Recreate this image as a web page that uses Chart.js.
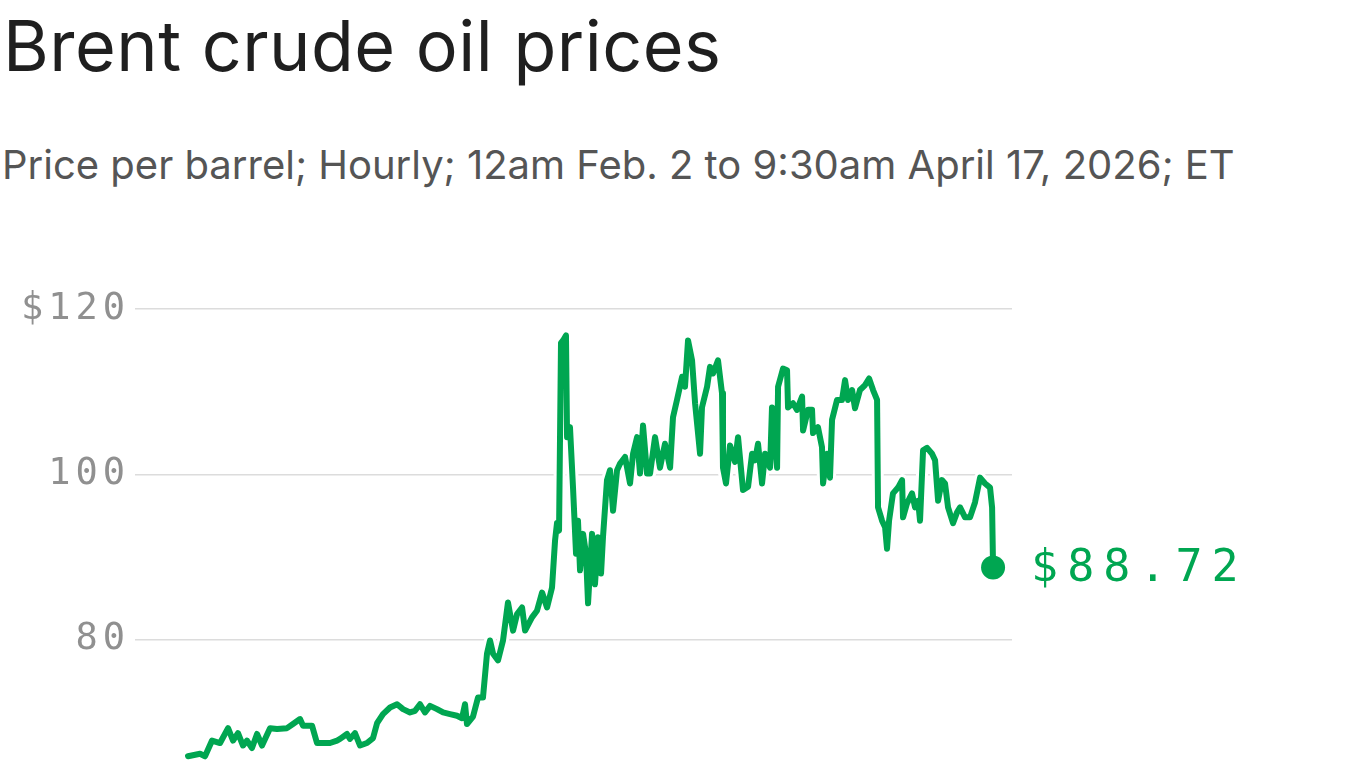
<!DOCTYPE html>
<html>
<head>
<meta charset="utf-8">
<script src="https://cdn.jsdelivr.net/npm/chart.js@4/dist/chart.umd.min.js"></script>
<style>
  html, body { margin:0; padding:0; background:#fff; width:1366px; height:768px; overflow:hidden; }
  #title { position:absolute; left:3px; top:11px; font-family:Inter, sans-serif; font-size:70px; line-height:70px; color:#1f1f1f; white-space:nowrap; letter-spacing:0.5px; }
  #subtitle { position:absolute; left:2px; top:145px; font-family:Inter, sans-serif; font-size:40px; line-height:40px; color:#555; white-space:nowrap; }
  #wrap { position:absolute; left:0; top:0; width:1366px; height:781px; }
</style>
</head>
<body>
<div id="title">Brent crude oil prices</div>
<div id="subtitle">Price per barrel; Hourly; 12am Feb. 2 to 9:30am April 17, 2026; ET</div>
<div id="wrap"><canvas id="c" width="1366" height="781"></canvas></div>
<script>
// Days elapsed since 12am Feb. 2, 2026 (ET)
const days = [
  0.00, 1.11, 1.57, 2.22, 2.96, 3.70, 4.16, 4.62, 5.08, 5.45,
  5.91, 6.38, 6.84, 7.58, 8.23, 9.15, 9.70, 10.35, 10.63, 11.46,
  11.92, 12.48, 13.12, 13.77, 14.05, 14.69, 14.97, 15.43, 15.90, 16.54,
  17.10, 17.47, 18.02, 18.67, 19.32, 19.87, 20.52, 20.98, 21.44, 21.90,
  22.37, 23.01, 23.57, 24.21, 24.86, 25.32, 25.60, 25.78, 26.34, 26.80,
  27.26, 27.63, 27.91, 28.19, 28.65, 29.11, 29.57, 30.04, 30.41, 30.87,
  31.15, 31.79, 32.25, 32.72, 33.18, 33.64, 33.92, 34.10, 34.29, 34.47,
  34.66, 34.93, 35.03, 35.30, 35.58, 35.86, 36.04, 36.23, 36.51, 36.78,
  36.97, 37.34, 37.61, 37.89, 38.17, 38.35, 38.72, 39.00, 39.28, 39.65,
  39.93, 40.39, 40.85, 41.13, 41.50, 41.77, 42.05, 42.42, 42.70, 43.16,
  43.62, 44.08, 44.55, 44.82, 45.19, 45.66, 45.93, 46.21, 46.58, 46.86,
  47.32, 47.50, 47.97, 48.24, 48.52, 48.98, 49.35, 49.44, 49.72, 50.09,
  50.55, 50.83, 51.29, 51.76, 52.13, 52.40, 52.68, 53.05, 53.33, 53.79,
  53.97, 54.44, 54.53, 54.99, 55.36, 55.45, 55.91, 56.28, 56.75, 56.84,
  57.30, 57.67, 57.76, 58.22, 58.59, 58.69, 59.05, 59.33, 59.52, 59.98,
  60.44, 60.72, 61.00, 61.37, 61.64, 62.10, 62.57, 62.94, 63.31, 63.68,
  63.77, 64.14, 64.42, 64.60, 64.79, 65.15, 65.62, 65.99, 66.08, 66.45,
  66.91, 67.19, 67.47, 67.65, 67.93, 68.30, 68.76, 69.04, 69.32, 69.68,
  69.96, 70.24, 70.70, 71.07, 71.35, 71.81, 72.27, 72.73, 73.20, 73.66,
  74.12, 74.31, 74.40
];
// Brent price per barrel, USD
const prices = [
  65.9, 66.2, 65.9, 67.8, 67.5, 69.3, 67.8, 68.7, 67.2, 67.8,
  66.9, 68.6, 67.2, 69.3, 69.2, 69.3, 69.8, 70.4, 69.6, 69.6,
  67.5, 67.5, 67.5, 67.8, 68.0, 68.6, 68.0, 68.7, 67.2, 67.5,
  68.1, 69.9, 71.0, 71.8, 72.2, 71.6, 71.2, 71.4, 72.2, 71.2,
  72.0, 71.6, 71.2, 71.0, 70.8, 70.5, 72.2, 69.8, 70.7, 73.0,
  73.0, 78.3, 79.9, 78.3, 77.5, 79.9, 84.5, 81.1, 83.1, 83.9,
  81.1, 82.7, 83.5, 85.7, 83.9, 86.3, 92.0, 94.1, 93.2, 115.9,
  116.2, 116.8, 104.5, 105.7, 98.4, 90.4, 94.4, 88.4, 92.8, 90.4,
  84.4, 92.8, 86.7, 92.4, 88.0, 92.4, 99.3, 100.5, 95.6, 100.5,
  101.3, 102.1, 98.9, 102.5, 104.5, 100.1, 105.9, 100.1, 100.1, 104.5,
  100.8, 103.7, 100.8, 106.9, 109.0, 111.8, 110.6, 116.2, 113.8, 108.6,
  102.5, 108.1, 110.6, 113.0, 112.2, 113.8, 109.8, 100.8, 98.9, 103.5,
  101.5, 104.5, 98.1, 98.5, 102.5, 101.7, 103.7, 98.9, 102.5, 100.8,
  108.1, 100.8, 110.6, 112.8, 112.6, 108.1, 108.6, 107.8, 109.4, 105.3,
  107.8, 107.8, 105.0, 105.7, 103.3, 98.9, 102.5, 99.6, 106.6, 109.0,
  109.0, 111.4, 109.0, 110.2, 108.0, 110.2, 110.8, 111.6, 110.2, 109.0,
  96.0, 94.4, 93.6, 91.0, 94.4, 97.7, 98.4, 99.3, 94.8, 96.5,
  97.7, 96.0, 96.8, 94.4, 102.9, 103.2, 102.5, 101.7, 96.8, 99.3,
  98.9, 96.0, 94.1, 95.4, 96.0, 94.8, 94.8, 96.6, 99.6, 98.9,
  98.4, 96.0, 88.72
];
const yTicks = [80, 100, 120];
const yTickLabels = ['80', '100', '$120'];

const GREEN = '#00a651';
const points = days.map((d, i) => ({ x: d, y: prices[i] }));
const last = points.length - 1;

const endLabel = {
  id: 'endLabel',
  beforeLayout(chart) { chart.ctx.letterSpacing = '5px'; },
  beforeDraw(chart) { chart.ctx.letterSpacing = '5px'; },
  afterDatasetsDraw(chart) {
    const meta = chart.getDatasetMeta(1);
    const pt = meta.data[last];
    const c = chart.ctx;
    c.save();
    c.letterSpacing = '9px';
    c.font = '45px "DejaVu Sans Mono", monospace';
    c.fillStyle = GREEN;
    c.textAlign = 'left';
    c.textBaseline = 'middle';
    c.fillText('$' + prices[last].toFixed(2), pt.x + 38, pt.y + 2);
    c.restore();
  }
};

new Chart(document.getElementById('c'), {
  type: 'line',
  data: {
    datasets: [
      { data: points, borderColor: '#ffffff', borderWidth: 12, pointRadius: 0, tension: 0,
        borderJoinStyle: 'round', borderCapStyle: 'round', order: 2 },
      { data: points, borderColor: GREEN, borderWidth: 6, tension: 0,
        borderJoinStyle: 'round', borderCapStyle: 'round', order: 1,
        pointRadius: (ctx) => ctx.dataIndex === last ? 12 : 0,
        pointHoverRadius: 0,
        pointBackgroundColor: GREEN, pointBorderWidth: 0 }
    ]
  },
  options: {
    responsive: false,
    animation: false,
    events: [],
    layout: { padding: { top: 309, left: 0, right: 354, bottom: 0 } },
    plugins: { legend: { display: false }, tooltip: { enabled: false } },
    scales: {
      x: { type: 'linear', min: -4.90, max: 76.15, display: false },
      y: {
        type: 'linear', min: 64.36, max: 120,
        afterBuildTicks(s) { s.ticks = yTicks.map(v => ({ value: v })); },
        afterFit(s) { s.width = 135; s.paddingTop = 0; s.paddingBottom = 0; },
        border: { display: false },
        grid: { color: '#dcdcdc', lineWidth: 1.6, drawTicks: false },
        ticks: {
          padding: 5,
          color: '#909090',
          font: { family: '"DejaVu Sans Mono", monospace', size: 37 },
          callback: (v) => yTickLabels[yTicks.indexOf(v)]
        }
      }
    }
  },
  plugins: [endLabel]
});
</script>
</body>
</html>
